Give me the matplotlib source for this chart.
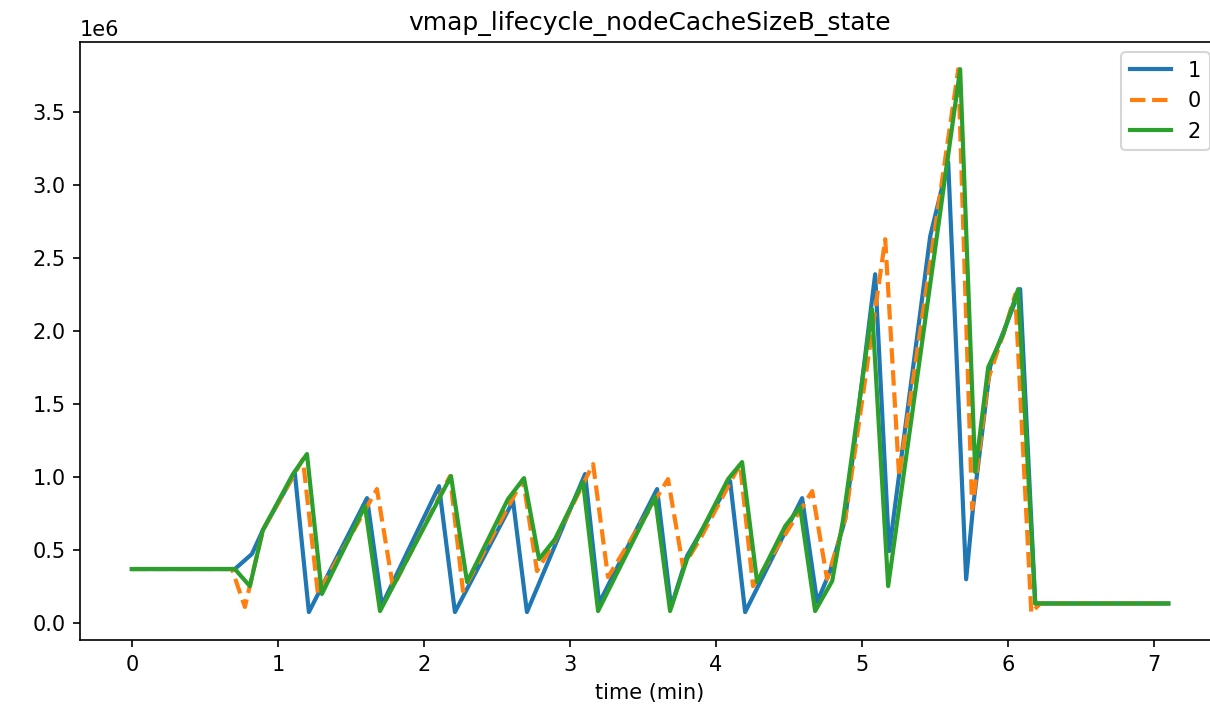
import matplotlib
matplotlib.use('Agg')
import matplotlib.pyplot as plt

title = 'vmap_lifecycle_nodeCacheSizeB_state'

# series "1" (blue)
t1 = [0.0, 0.705, 0.822, 0.897, 1.116, 1.212, 1.610, 1.712, 2.103, 2.212, 2.610, 2.705,
      3.103, 3.199, 3.596, 3.692, 3.801, 4.096, 4.199, 4.589, 4.692, 4.781, 4.884, 5.089,
      5.185, 5.466, 5.589, 5.712, 5.760, 5.877, 5.966, 6.082, 6.185, 7.096]
v1 = [0.370, 0.370, 0.473, 0.637, 1.027, 0.075, 0.856, 0.123, 0.938, 0.075, 0.836, 0.075,
      1.021, 0.137, 0.918, 0.110, 0.459, 0.973, 0.075, 0.856, 0.144, 0.356, 0.712, 2.390,
      0.493, 2.651, 3.158, 0.300, 0.801, 1.760, 1.993, 2.288, 0.134, 0.134]

# series "0" (orange, dashed)
t0 = [0.0, 0.685, 0.774, 0.897, 1.171, 1.274, 1.678, 1.788, 2.178, 2.267, 2.678, 2.774,
      2.884, 3.158, 3.260, 3.671, 3.774, 3.890, 4.164, 4.253, 4.658, 4.760, 4.884, 5.158,
      5.253, 5.658, 5.753, 5.863, 5.966, 6.048, 6.158, 6.219, 7.096]
v0 = [0.370, 0.370, 0.110, 0.637, 1.123, 0.199, 0.918, 0.247, 1.007, 0.219, 0.986, 0.356,
      0.541, 1.089, 0.315, 0.986, 0.384, 0.575, 1.089, 0.253, 0.904, 0.301, 0.712, 2.630,
      1.007, 3.795, 0.781, 1.671, 1.979, 2.253, 0.070, 0.134, 0.134]

# series "2" (green)
t2 = [0.0, 0.705, 0.808, 0.897, 1.103, 1.199, 1.301, 1.596, 1.699, 2.185, 2.295, 2.575,
      2.685, 2.788, 2.897, 3.089, 3.192, 3.582, 3.685, 3.801, 4.082, 4.178, 4.281, 4.473,
      4.575, 4.678, 4.795, 4.870, 5.068, 5.178, 5.671, 5.774, 5.863, 5.966, 6.068, 6.185, 7.096]
v2 = [0.370, 0.370, 0.253, 0.637, 1.021, 1.158, 0.199, 0.801, 0.082, 1.007, 0.281, 0.849,
      0.993, 0.438, 0.575, 0.966, 0.082, 0.863, 0.082, 0.438, 0.986, 1.103, 0.281, 0.664,
      0.795, 0.082, 0.288, 0.712, 2.151, 0.253, 3.795, 1.034, 1.753, 1.979, 2.288, 0.134, 0.134]

fig = plt.figure(figsize=(1210/150, 713/150), dpi=150)
# axes runs past the right edge of the figure, like the cropped original
ax = fig.add_axes([80/1210, 73/713, 1140/1210, 598/713])

ax.plot(t1, [v*1e6 for v in v1], color='C0', lw=2, label='1')
ax.plot(t0, [v*1e6 for v in v0], color='C1', lw=2, linestyle='--', label='0')
ax.plot(t2, [v*1e6 for v in v2], color='C2', lw=2, label='2')

ax.set_xlim(-0.355, 7.45)
ax.set_title(title)
ax.set_xlabel('time (min)')
ax.legend(loc='upper right')

fig.savefig('out.png', dpi=150)
